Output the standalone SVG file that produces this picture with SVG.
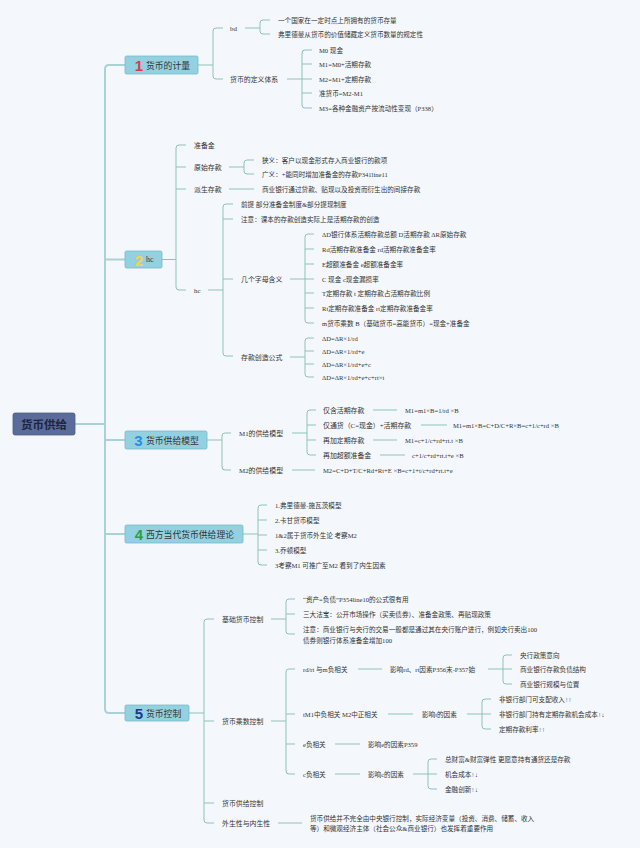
<svg xmlns="http://www.w3.org/2000/svg" width="640" height="848" viewBox="0 0 640 848">
<style>
.t{font-family:"Liberation Serif","Noto Sans CJK SC",serif;font-size:6.6px;fill:#333;dominant-baseline:central}
.t2{font-family:"Liberation Serif","Noto Sans CJK SC",serif;font-size:6.9px;fill:#333;dominant-baseline:central}
.lb{font-family:"Noto Sans CJK SC",sans-serif;font-size:8.8px;fill:#333;dominant-baseline:central}
.num{font-family:"Liberation Sans",sans-serif;font-weight:bold;font-size:15px;text-anchor:middle;dominant-baseline:central}
.box{fill:#93d0e0;stroke:#78b9c9;stroke-width:0.8}
.c{fill:none;stroke:#8fc1bb;stroke-width:1}
.tr{fill:none;stroke:#a9d2d6;stroke-width:2}
</style>
<rect width="640" height="848" fill="#f4f8fc"/>
<g id="connectors">
<path class="tr" d="M75,424 H105 M125,65 H109 Q105,65 105,69 V709 Q105,713 109,713 H125 M105,259.5 H125 M105,440 H125 M105,534 H125"/>
<!-- section 1 -->
<path class="c" d="M198,65 H213 M223,28 H216 Q213,28 213,31 V76 Q213,79 216,79 H223"/>
<path class="c" d="M245,28 H260 M270,20 H263 Q260,20 260,23 V31 Q260,34 263,34 H270"/>
<path class="c" d="M287,79 H302 M312,50 H305 Q302,50 302,53 V105 Q302,108 305,108 H312 M302,64 H312 M302,79 H312 M302,93 H312"/>
<!-- section 2 -->
<path class="c" d="M162,259.5 H176 M186,145 H179 Q176,145 176,148 V287 Q176,290 179,290 H186 M176,167 H186 M176,189 H186"/>
<path class="c" d="M229,167 H244 M254,160 H247 Q244,160 244,163 V171 Q244,174 247,174 H254"/>
<path class="c" d="M229,189 H254"/>
<path class="c" d="M208,290 H223 M233,204 H226 Q223,204 223,207 V353 Q223,356 226,356 H233 M223,219 H233 M223,279 H233"/>
<path class="c" d="M290,279 H305 M314,234 H308 Q305,234 305,237 V320 Q305,323 308,323 H314 M305,249 H314 M305,264 H314 M305,279 H314 M305,293 H314 M305,308 H314"/>
<path class="c" d="M290,357 H305 M314,338 H308 Q305,338 305,341 V374 Q305,377 308,377 H314 M305,351 H314 M305,364 H314"/>
<!-- section 3 -->
<path class="c" d="M207,440 H222 M231,433 H225 Q222,433 222,436 V467 Q222,470 225,470 H231"/>
<path class="c" d="M292,433 H307 M316,410 H310 Q307,410 307,413 V452 Q307,455 310,455 H316 M307,425 H316 M307,440 H316"/>
<path class="c" d="M373,410 H397 M421,425 H447 M373,440 H397 M380,455 H405 M292,470 H315"/>
<!-- section 4 -->
<path class="c" d="M243,534 H258 M267,505 H261 Q258,505 258,508 V562 Q258,565 261,565 H267 M258,520 H267 M258,535 H267 M258,550 H267"/>
<!-- section 5 -->
<path class="c" d="M189,713 H204 M214,619 H207 Q204,619 204,622 V820 Q204,823 207,823 H214 M204,721 H214 M204,803 H214"/>
<path class="c" d="M271,619 H286 M295,599 H289 Q286,599 286,602 V631 Q286,634 289,634 H295 M286,614 H295"/>
<path class="c" d="M271,721 H286 M295,669 H289 Q286,669 286,672 V771 Q286,774 289,774 H295 M286,714 H295 M286,744 H295"/>
<path class="c" d="M358,669 H382 M488,669 H503 M512,655 H506 Q503,655 503,658 V681 Q503,684 506,684 H512 M503,669 H512"/>
<path class="c" d="M388,714 H413 M467,714 H482 M491,699 H485 Q482,699 482,702 V726 Q482,729 485,729 H491 M482,714 H491"/>
<path class="c" d="M335,744 H360 M335,774 H360 M413,774 H428 M437,759 H431 Q428,759 428,762 V786 Q428,789 431,789 H437 M428,774 H437"/>
<path class="c" d="M278,823 H302"/>
</g>
<g id="root">
<rect x="13" y="413" width="62" height="22" rx="2" fill="#5b6c9a" stroke="#4d5d8a" stroke-width="0.8"/>
<text x="44" y="424" text-anchor="middle" style="font-family:'Noto Sans CJK SC',sans-serif;font-size:11.5px;font-weight:bold;fill:#1b2540;dominant-baseline:central">货币供给</text>
</g>
<g id="n1">
<rect class="box" x="125" y="56" width="73" height="18" rx="1.5"/>
<text class="num" x="139" y="65.5" fill="#e8334a">1</text>
<text class="lb" x="146" y="65">货币的计量</text>
</g>
<g id="n1-bd"><text class="t2" x="230" y="28">bd</text></g>
<g id="n1-bd-1"><text class="t" x="278" y="20">一个国家在一定时点上所拥有的货币存量</text></g>
<g id="n1-bd-2"><text class="t" x="278" y="34">弗里德曼从货币的价值储藏定义货币数量的规定性</text></g>
<g id="n1-def"><text class="t2" x="230" y="79">货币的定义体系</text></g>
<g id="n1-def-1"><text class="t" x="319" y="50">M0 现金</text></g>
<g id="n1-def-2"><text class="t" x="319" y="64">M1=M0+活期存款</text></g>
<g id="n1-def-3"><text class="t" x="319" y="79">M2=M1+定期存款</text></g>
<g id="n1-def-4"><text class="t" x="319" y="93">准货币=M2-M1</text></g>
<g id="n1-def-5"><text class="t" x="319" y="108">M3=各种金融资产按流动性变现（P338）</text></g>

<g id="n2">
<rect class="box" x="125" y="251" width="37" height="17" rx="1.5"/>
<text class="num" x="139" y="260" fill="#f5d34a">2</text>
<text class="t2" x="146" y="259.5" style="font-size:8px">hc</text>
</g>
<g id="n2-a"><text class="t2" x="194" y="145">准备金</text></g>
<g id="n2-b"><text class="t2" x="194" y="167">原始存款</text></g>
<g id="n2-b1"><text class="t" x="262" y="160">狭义：客户以现金形式存入商业银行的款项</text></g>
<g id="n2-b2"><text class="t" x="262" y="174">广义：+能同时增加准备金的存款P341line11</text></g>
<g id="n2-c"><text class="t2" x="194" y="189">派生存款</text></g>
<g id="n2-c1"><text class="t" x="262" y="189">商业银行通过贷款、贴现以及投资而衍生出的间接存款</text></g>
<g id="n2-d"><text class="t2" x="194" y="290">hc</text></g>
<g id="n2-d1"><text class="t" x="241" y="204">前提 部分准备金制度&amp;部分提现制度</text></g>
<g id="n2-d2"><text class="t" x="241" y="219">注意：课本的存款创造实际上是活期存款的创造</text></g>
<g id="n2-d3"><text class="t2" x="241" y="279">几个字母含义</text></g>
<g id="n2-d3-1"><text class="t" x="322" y="234">ΔD银行体系活期存款总额 D活期存款 ΔR原始存款</text></g>
<g id="n2-d3-2"><text class="t" x="322" y="249">Rd活期存款准备金 rd活期存款准备金率</text></g>
<g id="n2-d3-3"><text class="t" x="322" y="264">E超额准备金 e超额准备金率</text></g>
<g id="n2-d3-4"><text class="t" x="322" y="279">C 现金 c现金漏损率</text></g>
<g id="n2-d3-5"><text class="t" x="322" y="293">T定期存款 t 定期存款占活期存款比例</text></g>
<g id="n2-d3-6"><text class="t" x="322" y="308">Rt定期存款准备金 rt定期存款准备金率</text></g>
<g id="n2-d3-7"><text class="t" x="322" y="323">m货币乘数 B（基础货币=高能货币）=现金+准备金</text></g>
<g id="n2-d4"><text class="t2" x="241" y="357">存款创造公式</text></g>
<g id="n2-d4-1"><text class="t" x="322" y="338">ΔD=ΔR×1/rd</text></g>
<g id="n2-d4-2"><text class="t" x="322" y="351">ΔD=ΔR×1/rd+e</text></g>
<g id="n2-d4-3"><text class="t" x="322" y="364">ΔD=ΔR×1/rd+e+c</text></g>
<g id="n2-d4-4"><text class="t" x="322" y="377">ΔD=ΔR×1/rd+e+c+rt×t</text></g>

<g id="n3">
<rect class="box" x="125" y="431" width="82" height="18" rx="1.5"/>
<text class="num" x="138.5" y="440.5" fill="#2a8ee0">3</text>
<text class="lb" x="146" y="440">货币供给模型</text>
</g>
<g id="n3-m1"><text class="t2" x="239" y="433">M1的供给模型</text></g>
<g id="n3-m1-1"><text class="t2" x="323" y="410">仅含活期存款</text><text class="t" x="405" y="410">M1=m1×B=1/rd ×B</text></g>
<g id="n3-m1-2"><text class="t2" x="323" y="425">仅通货（C=现金）+活期存款</text><text class="t" x="453" y="425">M1=m1×B=C+D/C+R×B=c+1/c+rd ×B</text></g>
<g id="n3-m1-3"><text class="t2" x="323" y="440">再加定期存款</text><text class="t" x="405" y="440">M1=c+1/c+rd+rt.t ×B</text></g>
<g id="n3-m1-4"><text class="t2" x="323" y="455">再加超额准备金</text><text class="t" x="412" y="455">c+1/c+rd+rt.t+e ×B</text></g>
<g id="n3-m2"><text class="t2" x="239" y="470">M2的供给模型</text><text class="t" x="323" y="470">M2=C+D+T/C+Rd+Rt+E ×B=c+1+t/c+rd+rt.t+e</text></g>

<g id="n4">
<rect class="box" x="125" y="525" width="118" height="18" rx="1.5"/>
<text class="num" x="139" y="534.5" fill="#2aa03a">4</text>
<text class="lb" x="146" y="534">西方当代货币供给理论</text>
</g>
<g id="n4-1"><text class="t" x="275" y="505">1.弗里德曼-施瓦茨模型</text></g>
<g id="n4-2"><text class="t" x="275" y="520">2.卡甘货币模型</text></g>
<g id="n4-3"><text class="t" x="275" y="535">1&amp;2属于货币外生论 考察M2</text></g>
<g id="n4-4"><text class="t" x="275" y="550">3.乔顿模型</text></g>
<g id="n4-5"><text class="t" x="275" y="565">3考察M1 可推广至M2 看到了内生因素</text></g>

<g id="n5">
<rect class="box" x="125" y="705" width="64" height="16" rx="1.5"/>
<text class="num" x="139" y="713.5" fill="#1a3a8a">5</text>
<text class="lb" x="146" y="713">货币控制</text>
</g>
<g id="n5-a"><text class="t2" x="222" y="619">基础货币控制</text></g>
<g id="n5-a1"><text class="t" x="303" y="599">“资产=负债”P354line10的公式很有用</text></g>
<g id="n5-a2"><text class="t" x="303" y="614">三大法宝：公开市场操作（买卖债券）、准备金政策、再贴现政策</text></g>
<g id="n5-a3"><text class="t" x="303" y="629">注意：商业银行与央行的交易一般都是通过其在央行账户进行，例如央行卖出100</text><text class="t" x="303" y="640">债券则银行体系准备金增加100</text></g>
<g id="n5-b"><text class="t2" x="222" y="721">货币乘数控制</text></g>
<g id="n5-b1"><text class="t" x="303" y="669">rd/rt 与m负相关</text><text class="t" x="390" y="669">影响rd、rt因素P356末-P357始</text></g>
<g id="n5-b1-1"><text class="t" x="520" y="655">央行政策意向</text></g>
<g id="n5-b1-2"><text class="t" x="520" y="669">商业银行存款负债结构</text></g>
<g id="n5-b1-3"><text class="t" x="520" y="684">商业银行规模与位置</text></g>
<g id="n5-b2"><text class="t" x="303" y="714">tM1中负相关 M2中正相关</text><text class="t" x="422" y="714">影响t的因素</text></g>
<g id="n5-b2-1"><text class="t" x="499" y="699">非银行部门可支配收入↑↑</text></g>
<g id="n5-b2-2"><text class="t" x="499" y="714">非银行部门持有定期存款机会成本↑↓</text></g>
<g id="n5-b2-3"><text class="t" x="499" y="729">定期存款利率↑↑</text></g>
<g id="n5-b3"><text class="t" x="303" y="744">e负相关</text><text class="t" x="368" y="744">影响e的因素P359</text></g>
<g id="n5-b4"><text class="t" x="303" y="774">c负相关</text><text class="t" x="368" y="774">影响c的因素</text></g>
<g id="n5-b4-1"><text class="t" x="445" y="759">总财富&amp;财富弹性 更愿意持有通货还是存款</text></g>
<g id="n5-b4-2"><text class="t" x="445" y="774">机会成本↑↓</text></g>
<g id="n5-b4-3"><text class="t" x="445" y="789">金融创新↑↓</text></g>
<g id="n5-c"><text class="t2" x="222" y="803">货币供给控制</text></g>
<g id="n5-d"><text class="t2" x="222" y="823">外生性与内生性</text></g>
<g id="n5-d1"><text class="t" x="310" y="818">货币供给并不完全由中央银行控制，实际经济变量（投资、消费、储蓄、收入</text><text class="t" x="310" y="828">等）和微观经济主体（社会公众&amp;商业银行）也发挥着重要作用</text></g>
</svg>
